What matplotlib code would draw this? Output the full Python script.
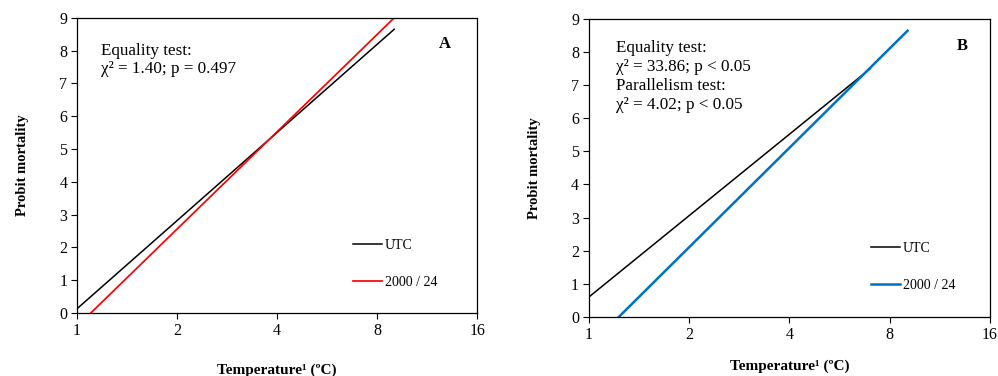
import matplotlib
matplotlib.use("Agg")
import matplotlib.pyplot as plt
from matplotlib.ticker import FixedLocator, FixedFormatter

plt.rcParams['font.family'] = ['Liberation Serif', 'DejaVu Serif']

# panel A: probit lines (temperature, probit)
a_utc_x = [1.0, 9.0]
a_utc_y = [0.13, 8.65]
a_trt_x = [1.10, 9.0]
a_trt_y = [0.0, 9.0]

# panel B
b_utc_x = [1.0, 7.0]
b_utc_y = [0.6, 7.5]
b_trt_x = [1.23, 9.05]
b_trt_y = [0.0, 8.64]

x_ticks = [1, 2, 4, 8, 16]
y_ticks = list(range(10))

a_text = "Equality test:\nχ² = 1.40; p = 0.497"
b_text = "Equality test:\nχ² = 33.86; p < 0.05\nParallelism test:\nχ² = 4.02; p < 0.05"

fig = plt.figure(figsize=(9.98, 3.76), dpi=100)
axA = fig.add_axes([0.0772, 0.1676, 0.401, 0.785])
axB = fig.add_axes([0.590, 0.157, 0.402, 0.793])


def style(ax, xpad):
    ax.set_xscale('log', base=2)
    ax.set_xlim(1, 16)
    ax.set_ylim(0, 9)
    ax.xaxis.set_major_locator(FixedLocator(x_ticks))
    ax.xaxis.set_major_formatter(FixedFormatter([str(t) for t in x_ticks]))
    ax.xaxis.set_minor_locator(FixedLocator([]))
    ax.set_yticks(y_ticks)
    ax.tick_params(direction='out', length=4, width=0.8, labelsize=11.5, pad=3)
    for s in ax.spines.values():
        s.set_linewidth(0.9)
    ax.set_ylabel('Probit mortality', fontsize=10.5, fontweight='bold', labelpad=22)
    ax.set_xlabel('Temperature¹ (ºC)', fontsize=11, fontweight='bold', labelpad=xpad)


style(axA, 18)
axA.plot(a_utc_x, a_utc_y, color='black', lw=1.1, label='UTC')
axA.plot(a_trt_x, a_trt_y, color='#ff0000', lw=1.25, label='2000 / 24')
axA.text(0.06, 0.915, a_text, transform=axA.transAxes, fontsize=12.3,
         va='top', linespacing=1.2)
axA.text(0.92, 0.91, 'A', transform=axA.transAxes, fontsize=12,
         fontweight='bold', ha='center', va='center')
axA.legend(loc='upper left', bbox_to_anchor=(0.675, 0.27), frameon=False,
           fontsize=10, handlelength=2.1, handletextpad=0.2, labelspacing=1.75,
           borderaxespad=0)

style(axB, 12)
axB.plot(b_utc_x, b_utc_y, color='black', lw=1.1, label='UTC')
axB.plot(b_trt_x, b_trt_y, color='#0070c0', lw=1.8, label='2000 / 24')
axB.text(0.067, 0.93, b_text, transform=axB.transAxes, fontsize=12.3,
         va='top', linespacing=1.27)
axB.text(0.93, 0.91, 'B', transform=axB.transAxes, fontsize=12,
         fontweight='bold', ha='center', va='center')
axB.legend(loc='upper left', bbox_to_anchor=(0.69, 0.27), frameon=False,
           fontsize=10, handlelength=2.1, handletextpad=0.2, labelspacing=1.75,
           borderaxespad=0)

fig.savefig('out.png', dpi=100)
